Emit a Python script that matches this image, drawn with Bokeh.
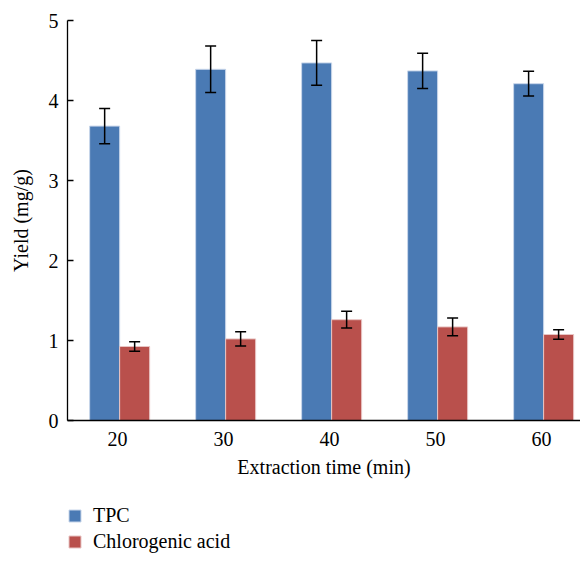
from bokeh.plotting import figure
from bokeh.models import (ColumnDataSource, FixedTicker, Whisker, TeeHead, Legend, LegendItem, Range1d)
from bokeh.layouts import column
from bokeh.embed import file_html
from bokeh.resources import INLINE

# Data
times = ["20", "30", "40", "50", "60"]
tpc = [3.68, 4.39, 4.47, 4.37, 4.21]
tpc_err = [0.22, 0.29, 0.28, 0.22, 0.155]
chloro = [0.925, 1.02, 1.26, 1.17, 1.075]
chloro_err = [0.06, 0.09, 0.105, 0.11, 0.06]
y_ticks = [0, 1, 2, 3, 4, 5]
series_names = ["TPC", "Chlorogenic acid"]

FONT = "Liberation Serif"
FS = "20px"
BLUE = "#4a7ab4"
RED = "#b9504c"

idx = list(range(len(times)))
bw = 0.283
off = 0.02
x_tpc = [i - bw / 2 + off for i in idx]
x_chl = [i + bw / 2 + off for i in idx]

src_t = ColumnDataSource(dict(x=x_tpc, top=tpc,
                              lo=[v - e for v, e in zip(tpc, tpc_err)],
                              hi=[v + e for v, e in zip(tpc, tpc_err)]))
src_c = ColumnDataSource(dict(x=x_chl, top=chloro,
                              lo=[v - e for v, e in zip(chloro, chloro_err)],
                              hi=[v + e for v, e in zip(chloro, chloro_err)]))

p = figure(width=580, height=490, output_backend="svg", toolbar_location=None,
           x_range=Range1d(-0.472, 4.368), y_range=Range1d(0, 5),
           min_border_left=67, min_border_right=0, min_border_top=20, min_border_bottom=70)
p.outline_line_color = None
p.grid.visible = False

p.vbar(x="x", top="top", width=bw, source=src_t, fill_color=BLUE,
       line_color="#c8d6ea", line_width=1)
p.vbar(x="x", top="top", width=bw, source=src_c, fill_color=RED,
       line_color="#e8c4c3", line_width=1)

for src in (src_t, src_c):
    w = Whisker(source=src, base="x", upper="hi", lower="lo", line_color="black", line_width=1.5,
                level="overlay",
                upper_head=TeeHead(size=11, line_color="black", line_width=1.5),
                lower_head=TeeHead(size=11, line_color="black", line_width=1.5))
    p.add_layout(w)

# axes
p.yaxis.ticker = FixedTicker(ticks=y_ticks)
p.yaxis.major_tick_in = 6
p.yaxis.major_tick_out = 0
p.yaxis.minor_tick_line_color = None
p.yaxis.axis_line_color = "black"
p.yaxis.axis_line_width = 1.3
p.yaxis.major_tick_line_width = 1.3
p.yaxis.major_label_standoff = 9
p.yaxis.axis_label = "Yield (mg/g)"

p.xaxis.ticker = FixedTicker(ticks=idx)
p.xaxis.major_label_overrides = {i: t for i, t in zip(idx, times)}
p.xaxis.major_tick_line_color = None
p.xaxis.minor_tick_line_color = None
p.xaxis.axis_line_color = "black"
p.xaxis.axis_line_width = 1.3
p.xaxis.major_label_standoff = 5
p.xaxis.axis_label = "Extraction time (min)"

for ax in (p.xaxis, p.yaxis):
    ax.major_label_text_font = FONT
    ax.major_label_text_font_size = FS
    ax.major_label_text_color = "black"
    ax.axis_label_text_font = FONT
    ax.axis_label_text_font_size = FS
    ax.axis_label_text_font_style = "normal"
    ax.axis_label_text_color = "black"
p.xaxis.axis_label_standoff = 7
p.yaxis.axis_label_standoff = 14

# legend in a separate strip below the chart (frames are aligned by the column)
lg = figure(width=580, height=63, output_backend="svg", toolbar_location=None,
            x_range=Range1d(0, 1), y_range=Range1d(0, 1),
            x_axis_location=None, y_axis_location=None,
            min_border_left=67, min_border_right=0, min_border_top=0, min_border_bottom=0)
lg.grid.visible = False
lg.outline_line_color = None
lr1 = lg.vbar(x=[5], top=[1], width=0.1, fill_color=BLUE, line_color="#c8d6ea")
lr2 = lg.vbar(x=[5], top=[1], width=0.1, fill_color=RED, line_color="#e8c4c3")
legend = Legend(items=[LegendItem(label=series_names[0], renderers=[lr1]),
                       LegendItem(label=series_names[1], renderers=[lr2])],
                location=(0, 0), orientation="vertical",
                padding=0, margin=0, spacing=3, glyph_width=15, glyph_height=15,
                label_height=17, label_standoff=11,
                label_text_font=FONT, label_text_font_size=FS, label_text_color="black",
                border_line_color=None, background_fill_alpha=0)
lg.add_layout(legend, "center")

layout = column(p, lg, spacing=0)
open("out.html", "w").write(file_html(layout, INLINE))
